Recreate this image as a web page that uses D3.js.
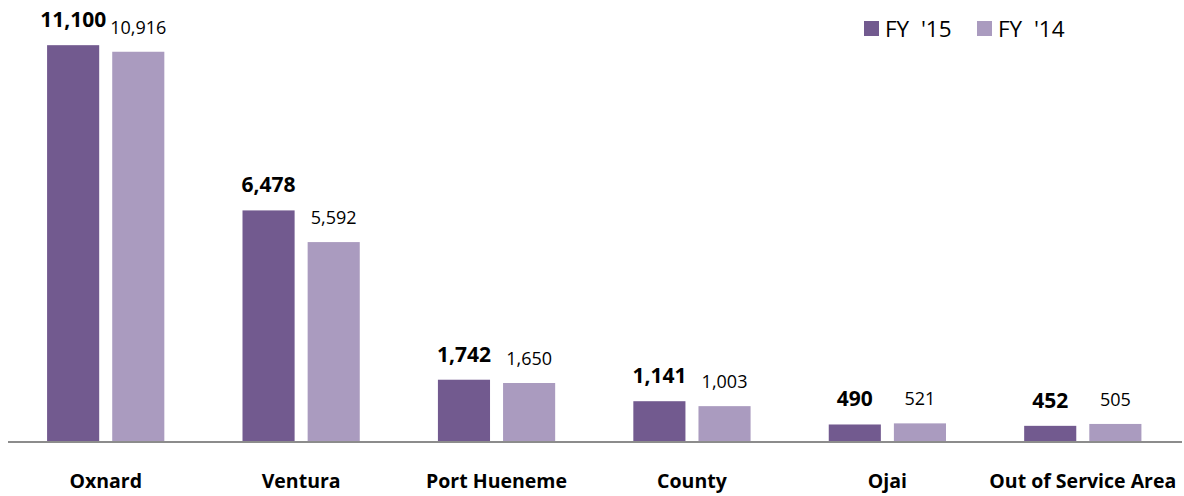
<!DOCTYPE html>
<html>
<head>
<meta charset="utf-8">
<script src="https://cdn.jsdelivr.net/npm/d3@7"></script>
<style>
  html, body { margin: 0; padding: 0; background: #fff; }
  svg { display: block; font-family: "Open Sans", sans-serif; }
</style>
</head>
<body>
<svg id="chart" width="1184" height="496"></svg>
<script>
const categories = ['Oxnard', 'Ventura', 'Port Hueneme', 'County', 'Ojai', 'Out of Service Area'];
const seriesNames = ["FY  '15", "FY  '14"];
const fy15 = [11100, 6478, 1742, 1141, 490, 452];
const fy14 = [10916, 5592, 1650, 1003, 521, 505];
const colours = ['#725a8f', '#aa9bbf'];

const svg = d3.select('#chart');
const baseline = 442;

const rows = categories.map((c, i) => ({ category: c, values: [fy15[i], fy14[i]] }));

const x = d3.scaleBand()
  .domain(categories)
  .range([8, 1180.5])
  .paddingInner(0.4)
  .paddingOuter(0.2);

const xInner = d3.scaleBand()
  .domain(d3.range(seriesNames.length))
  .range([0, x.bandwidth()])
  .paddingInner(0.2);

const y = d3.scaleLinear()
  .domain([0, 12000])
  .range([baseline, 13]);

const fmt = d3.format(',');

const groups = svg.append('g')
  .selectAll('g')
  .data(rows)
  .join('g')
  .attr('transform', d => `translate(${x(d.category)},0)`);

groups.selectAll('rect')
  .data(d => d.values.map((v, k) => ({ v, k })))
  .join('rect')
  .attr('x', d => xInner(d.k))
  .attr('y', d => y(d.v))
  .attr('width', xInner.bandwidth())
  .attr('height', d => baseline - y(d.v))
  .attr('fill', d => colours[d.k]);

groups.selectAll('text.value')
  .data(d => d.values.map((v, k) => ({ v, k })))
  .join('text')
  .attr('class', 'value')
  .attr('x', d => xInner(d.k) + xInner.bandwidth() / 2)
  .attr('y', d => y(d.v) - 18)
  .attr('text-anchor', 'middle')
  .attr('font-size', d => d.k === 0 ? 21 : 18)
  .attr('font-weight', d => d.k === 0 ? 'bold' : 'normal')
  .attr('fill', '#000')
  .text(d => fmt(d.v));

// baseline axis
svg.append('line')
  .attr('x1', 8)
  .attr('x2', 1182)
  .attr('y1', baseline)
  .attr('y2', baseline)
  .attr('stroke', '#8c8c8c')
  .attr('stroke-width', 2);

svg.append('g')
  .selectAll('text')
  .data(categories)
  .join('text')
  .attr('x', d => x(d) + x.bandwidth() / 2)
  .attr('y', 488)
  .attr('text-anchor', 'middle')
  .attr('font-size', 19.5)
  .attr('font-weight', 'bold')
  .attr('fill', '#000')
  .text(d => d);

// legend
const legend = svg.append('g').attr('transform', 'translate(864,21)');
const legendItems = legend.selectAll('g')
  .data(seriesNames)
  .join('g')
  .attr('transform', (d, i) => `translate(${i * 113},0)`);

legendItems.append('rect')
  .attr('width', 15)
  .attr('height', 15)
  .attr('fill', (d, i) => colours[i]);

legendItems.append('text')
  .attr('x', 21)
  .attr('y', 16)
  .attr('font-size', 22.5)
  .attr('fill', '#000')
  .style('white-space', 'pre')
  .text(d => d);
</script>
</body>
</html>
